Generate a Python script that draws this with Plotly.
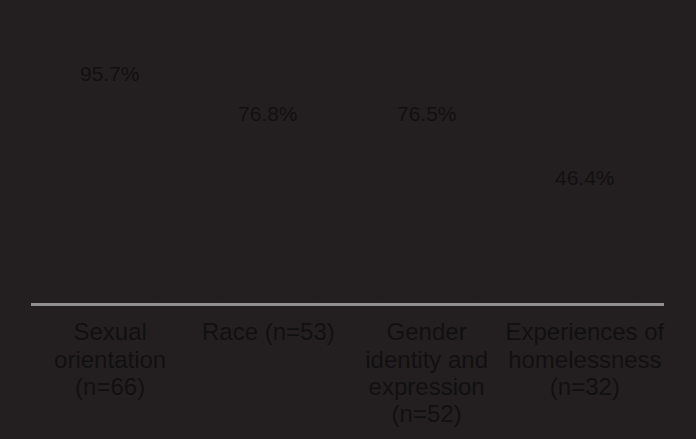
import plotly.graph_objects as go

categories = ["Sexual orientation (n=66)", "Race (n=53)",
              "Gender identity and expression (n=52)", "Experiences of homelessness (n=32)"]
tick_labels = [["Sexual", "orientation", "(n=66)"],
               ["Race (n=53)"],
               ["Gender", "identity and", "expression", "(n=52)"],
               ["Experiences of", "homelessness", "(n=32)"]]
values = [95.7, 76.8, 76.5, 46.4]
value_labels = ["95.7%", "76.8%", "76.5%", "46.4%"]

BG = "#231f20"
TXT = "#111010"

def fmt(lines):
    return "<br>".join('<span style="font-size:24px">%s</span>' % l for l in lines)

fig = go.Figure()
fig.add_trace(go.Bar(x=categories, y=values, marker=dict(color=BG, line=dict(width=0)),
                     hoverinfo="skip", width=0.6))
for c, v, t in zip(categories, values, value_labels):
    fig.add_annotation(x=c, y=v, text=t, showarrow=False, yanchor="middle", yshift=27,
                       font=dict(size=21, color=TXT, family="Liberation Sans, Arial, sans-serif"))

fig.update_layout(
    width=696, height=439,
    paper_bgcolor=BG, plot_bgcolor=BG,
    margin=dict(l=31, r=32, t=22, b=132),
    showlegend=False,
    font=dict(family="Liberation Sans, Arial, sans-serif", color=TXT),
    bargap=0.4,
)
fig.update_xaxes(tickvals=categories, ticktext=[fmt(l) for l in tick_labels],
                 tickfont=dict(size=21, color=TXT), showline=True, linecolor="#8f8f8f",
                 linewidth=3, ticks="", showgrid=False, tickangle=0, ticklabelstandoff=9)
fig.update_yaxes(range=[0, 132.6], visible=False, showgrid=False, zeroline=False)
fig.write_html("out.html", config={"displayModeBar": False},
               post_script="document.body.style.margin='0';document.body.style.background='%s';" % BG)
